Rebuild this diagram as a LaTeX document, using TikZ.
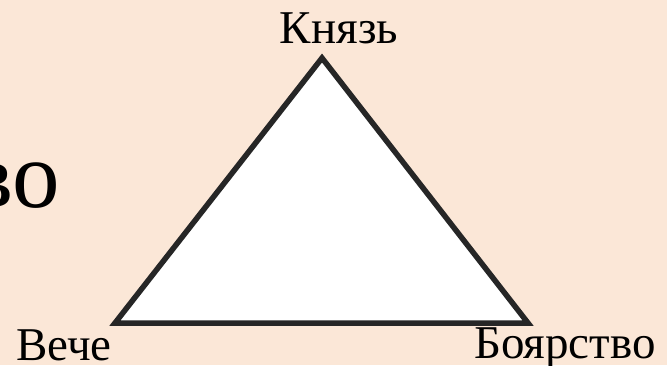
\documentclass[tikz,border=0pt]{standalone}
\usepackage{fontspec}
\setmainfont{Liberation Serif}
\definecolor{peach}{HTML}{FBE7D7}
\definecolor{edge}{HTML}{262626}
\begin{document}
\begin{tikzpicture}[x=1pt,y=-1pt,
  lbl/.style={inner sep=0pt,font=\fontsize{47}{52}\selectfont,text=black},
  big/.style={inner sep=0pt,font=\fontsize{95}{100}\selectfont,text=black},
  tri/.style={draw=edge,line width=5.5pt,fill=white,line join=miter}]
\fill[peach] (0,0) rectangle (667,365);
\useasboundingbox (0,0) rectangle (667,365);
\coordinate (A) at (322,58);
\coordinate (B) at (115,323);
\coordinate (C) at (528,323);
\draw[tri] (A) -- (B) -- (C) -- cycle;
\node[lbl,anchor=base] (kn) at (339,43) {Князь};
\node[lbl,anchor=base east] (ve) at (112,360) {Вече};
\node[lbl,anchor=base west] (bo) at (474,358) {Боярство};
\node[big,anchor=base east] (vo) at (60,207) {во};
\end{tikzpicture}
\end{document}
